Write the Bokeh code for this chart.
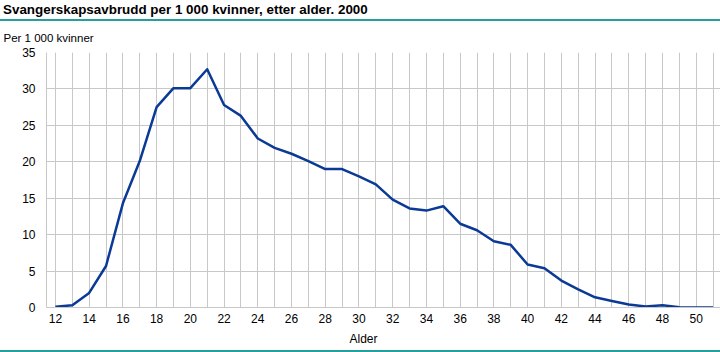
from bokeh.plotting import figure
from bokeh.models import FixedTicker, Range1d, Title, Div
from bokeh.layouts import column
from bokeh.embed import file_html
from bokeh.resources import INLINE

ages = list(range(12, 52))
rates = [0.1, 0.3, 2.0, 5.7, 14.3, 20.1, 27.5, 30.1, 30.1, 32.7,
         27.8, 26.3, 23.2, 21.9, 21.1, 20.1, 19.0, 19.0, 18.0, 16.9,
         14.8, 13.6, 13.3, 13.9, 11.5, 10.6, 9.1, 8.6, 5.9, 5.4,
         3.7, 2.5, 1.4, 0.9, 0.4, 0.15, 0.3, 0.05, 0.0, 0.0]
x_tick_labels = list(range(12, 51, 2))
y_ticks = [0, 5, 10, 15, 20, 25, 30, 35]

title_text = "Svangerskapsavbrudd per 1 000 kvinner, etter alder. 2000"
unit_text = "Per 1 000 kvinner"
xlab_text = "Alder"

FONT = "Liberation Sans"
TEAL = "#23a09c"
BLUE = "#0a3a96"
GRID = "#c8c8c8"

W = 720
TOP_H = 21
BOT_H = 2
FIG_H = 352 - TOP_H - BOT_H

head = Div(text=title_text, width=W, height=TOP_H - 2, margin=0,
           styles={"font-family": FONT, "font-weight": "bold",
                   "font-size": "13.4px", "color": "#000000",
                   "padding-left": "3px", "line-height": "19px",
                   "border-bottom": "2px solid " + TEAL,
                   "box-sizing": "content-box"})

p = figure(width=W, height=FIG_H, output_backend="svg", toolbar_location=None,
           x_range=Range1d(11.47, 51.44), y_range=Range1d(0, 35),
           min_border_left=46, min_border_right=0,
           min_border_top=28, min_border_bottom=42, margin=0)
p.outline_line_color = None

p.line(ages, rates, line_color=BLUE, line_width=2.5, line_join="round")

for ax in (p.xaxis[0], p.yaxis[0]):
    ax.axis_line_color = GRID
    ax.major_tick_line_color = None
    ax.minor_tick_line_color = None
    ax.major_tick_out = 0
    ax.major_tick_in = 0
    ax.major_label_text_font = FONT
    ax.major_label_text_font_size = "12px"
    ax.major_label_text_color = "#000000"

p.xaxis[0].ticker = FixedTicker(ticks=x_tick_labels)
p.xaxis[0].major_label_standoff = 6
p.yaxis[0].ticker = FixedTicker(ticks=y_ticks)
p.yaxis[0].major_label_standoff = 11

p.xgrid[0].ticker = FixedTicker(ticks=ages)
p.ygrid[0].ticker = FixedTicker(ticks=y_ticks)
p.xgrid[0].grid_line_color = GRID
p.ygrid[0].grid_line_color = GRID

p.add_layout(Title(text=unit_text, align="left", offset=-43, standoff=17,
                   text_line_height=0.7,
                   text_font=FONT, text_font_size="11.5px",
                   text_font_style="normal", text_color="#000000"), "above")
p.add_layout(Title(text=xlab_text, align="left", offset=303, standoff=9,
                   text_line_height=0.7,
                   text_font=FONT, text_font_size="12px",
                   text_font_style="normal", text_color="#000000"), "below")

foot = Div(text="", width=W, height=BOT_H, margin=0,
           styles={"background-color": TEAL})

layout = column(head, p, foot, spacing=0)
open("out.html", "w").write(file_html(layout, INLINE))
